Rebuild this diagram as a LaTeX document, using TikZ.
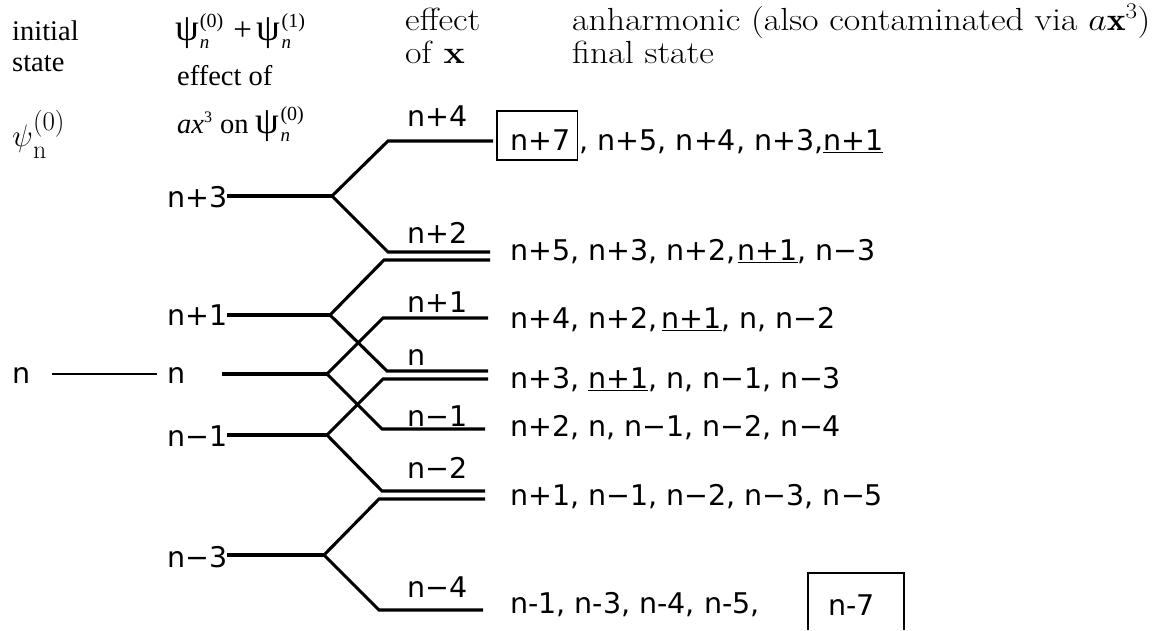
\RequirePackage{fix-cm}
\documentclass[tikz,border=0pt]{standalone}
\usepackage{fontspec}
\usetikzlibrary{calc}
\newfontfamily\sansnum{DejaVu Sans}
\newfontfamily\tmsfont{Liberation Serif}
% psi with subscript n and a bracketed superscript order
\newcommand\psistate[1]{{\fontsize{38}{38}\selectfont ψ}\kern1pt\rlap{\raisebox{-8pt}{\fontsize{19}{19}\selectfont\itshape n}}\raisebox{13pt}{\fontsize{20}{20}\selectfont(#1)}}
% thin underline close to the baseline
\newcommand\uln[1]{\sbox0{#1}\rlap{\rule[-3pt]{\wd0}{1.5pt}}\usebox0}
% heading text, a little wider than it is tall
\newcommand\widetext[1]{\scalebox{1.12}[1]{#1}}
\begin{document}
\begin{tikzpicture}[x=1pt,y=-1pt,
  lbl/.style={inner sep=0pt, anchor=base west, font=\sansnum\fontsize{28.5}{34}\selectfont},
  serifhead/.style={inner sep=0pt, anchor=base west, font=\tmsfont\fontsize{28.5}{32}\selectfont},
  cmhead/.style={inner sep=0pt, anchor=base west, font=\fontsize{32}{36}\selectfont},
  level/.style={line width=3.1pt},
  thinlevel/.style={line width=2.4pt},
  framebox/.style={line width=1.9pt}]
\useasboundingbox (0,0) rectangle (1170,630);
\fill[white] (0,0) rectangle (1170,630);

% column headings
\node[serifhead] (hinit) at (12,40) {initial};
\node[serifhead] (hstate) at (12,71) {state};
\node[serifhead] (hpsi) at (175,40) {\psistate{0}\kern10pt{\fontsize{33}{33}\selectfont+}\kern5pt\psistate{1}};
\node[serifhead] (heff) at (177,85) {effect of};
\node[serifhead] (hax) at (177,133) {\textit{ax}\raisebox{11pt}{\fontsize{16}{16}\selectfont 3}\kern8pt on \psistate{0}};
\node[inner sep=0pt, anchor=base west, font=\fontsize{31}{34}\selectfont] (hpsi0) at (12,146)
  {$\psi$\rlap{\raisebox{-12pt}{\fontsize{26}{26}\selectfont n}}\raisebox{16pt}{\fontsize{27}{27}\selectfont(0)}};
\node[cmhead] (heffx) at (405,30) {\widetext{effect}};
\node[cmhead] (hofx) at (405,63) {\widetext{of \textbf{x}}};
\node[cmhead] (hanh) at (572,30) {\widetext{anharmonic (also contaminated via $a\mathbf{x}^3$)}};
\node[cmhead] (hfin) at (572,63) {\widetext{final state}};

% initial state and first-order levels
\node[lbl] (l0) at (12,383) {n};
\node[lbl] (m3) at (167,207) {n+3};
\node[lbl] (m1) at (167,325) {n+1};
\node[lbl] (m0) at (167,383) {n};
\node[lbl] (mm1) at (167,446) {n−1};
\node[lbl] (mm3) at (167,567) {n−3};

\coordinate (s0) at (52,374);
\coordinate (s1) at (157,374);
\coordinate (a0) at (222,374);

% branch points
\coordinate (b3) at (332,196);
\coordinate (b1) at (330,315);
\coordinate (b0) at (327,374);
\coordinate (bm1) at (327,435);
\coordinate (bm3) at (324,555);

% kinks and ends of the final levels
\coordinate (k4) at (388,141);   \coordinate (e4) at (493,141);
\coordinate (k2a) at (388,252);  \coordinate (e2a) at (490,252);
\coordinate (k2b) at (384,260);  \coordinate (e2b) at (490,260);
\coordinate (k1) at (383,318);   \coordinate (e1) at (488,318);
\coordinate (kna) at (387,371);  \coordinate (ena) at (488,371);
\coordinate (knb) at (383,379);  \coordinate (enb) at (488,379);
\coordinate (km1) at (382,429);  \coordinate (em1) at (485,429);
\coordinate (km2a) at (382,491); \coordinate (em2a) at (485,491);
\coordinate (km2b) at (379,499); \coordinate (em2b) at (485,499);
\coordinate (km4) at (379,610);  \coordinate (em4) at (483,610);

\draw[thinlevel] (s0) -- (s1);
\draw[level] (m3.east |- b3) -- (b3);
\draw[level] (m1.east |- b1) -- (b1);
\draw[level] (a0) -- (b0);
\draw[level] (mm1.east |- bm1) -- (bm1);
\draw[level] (mm3.east |- bm3) -- (bm3);

\draw[level] (b3) -- (k4) -- (e4);
\draw[level] (b3) -- (k2a) -- (e2a);
\draw[level] (b1) -- (k2b) -- (e2b);
\draw[level] (b1) -- (kna) -- (ena);
\draw[level] (b0) -- (k1) -- (e1);
\draw[level] (b0) -- (km1) -- (em1);
\draw[level] (bm1) -- (knb) -- (enb);
\draw[level] (bm1) -- (km2a) -- (em2a);
\draw[level] (bm3) -- (km2b) -- (em2b);
\draw[level] (bm3) -- (km4) -- (em4);

% labels of the levels reached by x
\node[lbl] (t4) at (407,126) {n+4};
\node[lbl] (t2) at (407,243) {n+2};
\node[lbl] (t1) at (407,312) {n+1};
\node[lbl] (t0) at (407,365) {n};
\node[lbl] (tm1) at (407,426) {n−1};
\node[lbl] (tm2) at (407,478) {n−2};
\node[lbl] (tm4) at (407,597) {n−4};

% final states
\node[lbl] (r1box) at (510,150) {n+7};
\draw[framebox] ($(r1box.base west)+(-13,-39)$) rectangle ($(r1box.base east)+(7,10)$);
\node[lbl] (r1) at ($(r1box.base east)+(9,0)$) {, n+5, n+4, n+3,\uln{n+1}};
\node[lbl] (r2) at (510,260) {n+5, n+3, n+2,\kern2pt\uln{n+1}, n−3};
\node[lbl] (r3) at (510,328) {n+4, n+2,\kern4pt\uln{n+1}, n, n−2};
\node[lbl] (r4) at (510,388) {n+3, \uln{n+1}, n, n−1, n−3};
\node[lbl] (r5) at (510,436) {n+2, n, n−1, n−2, n−4};
\node[lbl] (r6) at (510,505) {n+1, n−1, n−2, n−3, n−5};
\node[lbl] (r7) at (510,613) {n-1, n-3, n-4, n-5,};
\node[lbl] (r7box) at (828,615) {n-7};
\draw[framebox] ($(r7box.base west)+(-20,15)$) -- ($(r7box.base west)+(-20,-42)$)
  -- ($(r7box.base west)+(76,-42)$) -- ($(r7box.base west)+(76,15)$);
\end{tikzpicture}
\end{document}
